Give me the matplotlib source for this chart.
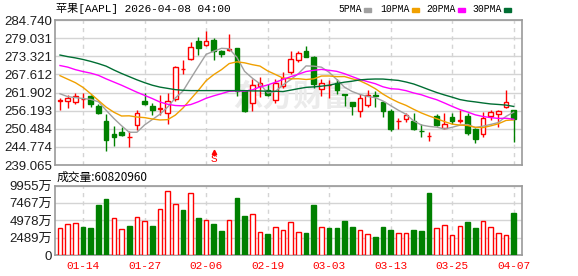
"""
AAPL daily candlestick chart with moving averages and volume,
laid out like the Eastmoney quote widget.
"""

import matplotlib
matplotlib.use("Agg")
import matplotlib.pyplot as plt
from matplotlib.patches import Rectangle
import numpy as np
import pandas as pd

# ---- data, oldest bar first ----
opens = [259.2, 259.2, 258.8, 259.9, 260.7, 257.8, 252.9, 248.7, 249.4, 247.8,
         251.6, 259.1, 257.8, 256.7, 255.3, 259.7, 269.2, 272.3, 278.1, 277.0,
         278.3, 275.0, 275.4, 275.9, 262.3, 258.6, 263.8, 262.8, 259.5, 263.8,
         268.3, 272.2, 274.9, 273.2, 263.0, 264.3, 264.9, 261.35, 258.9, 256.1,
         257.9, 261.0, 258.9, 256.0, 252.9, 253.5, 253.0, 249.8, 248.1, 254.4,
         250.6, 254.2, 252.9, 254.4, 250.4, 248.7, 254.5, 255.0, 257.2, 256.3]
highs = [260.3, 261.2, 261.9, 261.9, 261.0, 258.4, 255.0, 251.5, 250.9, 249.7,
         256.5, 261.9, 258.6, 261.0, 261.8, 270.4, 272.0, 277.8, 279.3, 281.4,
         279.1, 275.4, 280.4, 275.9, 262.7, 266.2, 266.8, 264.5, 266.1, 268.3,
         275.1, 275.1, 276.4, 273.3, 266.2, 265.9, 266.2, 261.5, 259.0, 261.5,
         262.8, 262.4, 259.2, 256.8, 254.0, 255.3, 255.3, 252.1, 249.5, 255.1,
         255.3, 255.3, 256.5, 255.3, 250.6, 255.8, 256.5, 256.5, 262.6, 256.4]
lows = [256.3, 256.9, 258.4, 257.1, 257.3, 255.1, 243.5, 244.9, 248.3, 244.8,
        250.1, 257.9, 254.8, 254.7, 252.1, 259.2, 267.6, 272.0, 273.6, 276.7,
        272.0, 273.0, 275.1, 260.7, 255.9, 256.1, 260.5, 260.7, 258.6, 263.4,
        267.8, 271.5, 273.0, 263.4, 260.7, 260.3, 261.5, 257.6, 254.8, 254.2,
        257.4, 257.4, 254.2, 249.8, 250.4, 252.7, 250.1, 248.0, 246.6, 251.3,
        250.4, 252.1, 252.4, 248.5, 245.9, 247.8, 253.2, 251.1, 257.1, 246.2]
closes = [259.4, 260.3, 260.8, 260.0, 258.2, 255.6, 246.9, 248.0, 248.5, 247.9,
          255.6, 258.4, 256.5, 256.9, 259.2, 269.9, 269.4, 276.2, 276.0, 278.1,
          274.9, 273.9, 275.6, 262.4, 256.1, 264.2, 264.9, 261.0, 264.9, 266.5,
          272.5, 274.3, 273.2, 264.5, 264.9, 264.4, 262.8, 261.25, 257.7, 260.3,
          261.2, 260.9, 256.1, 250.4, 253.0, 254.8, 250.4, 249.7, 248.2, 251.8,
          252.0, 253.0, 253.1, 249.2, 247.1, 254.0, 255.8, 256.1, 258.9, 253.7]
# volume in 万 shares
volumes = [3925, 4404, 4547, 3973, 3829, 7132, 7993, 5361, 3781, 4116,
           5504, 4834, 4116, 6653, 9142, 7275, 6414, 8951, 5265, 4978,
           4451, 3398, 5074, 8137, 5552, 5840, 3351, 2968, 4069, 3638,
           4691, 3255, 3159, 7132, 4069, 3829, 3829, 4834, 3973, 3638,
           2968, 2537, 3973, 3542, 3111, 3111, 3542, 3398, 8855, 3925,
           4356, 2824, 4116, 4691, 3829, 4834, 3973, 3111, 2824, 6082]
latest_volume = 60820960

# MA values for the bars before a full window exists (from earlier history)
ma5_head = [261.5, 260.6, 260.3, 260.0]
ma10_head = [267.2, 266.1, 265.0, 263.5, 261.5, 259.4, 257.3, 255.7, 254.5]
ma20_head = [270.4, 269.9, 269.1, 268.5, 268.0, 267.3, 266.2, 265.2, 264.2, 263.1,
             262.0, 261.0, 260.0, 258.9, 258.2, 257.8, 257.7, 258.1, 259.0]
ma30_head = [273.7, 273.2, 272.8, 272.3, 271.7, 271.0, 270.2, 269.0, 267.9, 266.9,
             265.9, 265.0, 264.2, 263.6, 263.2, 262.8, 262.6, 262.5, 262.5, 262.5,
             262.5, 262.5, 262.5, 262.5, 262.5, 262.4, 262.4, 262.3, 262.3]

# trading calendar
first_day, last_day = "2026-01-09", "2026-04-07"
market_holidays = ["2026-01-19", "2026-02-16", "2026-04-03"]
signal_day = "2026-02-09"

price_ticks = ["239.065", "244.774", "250.484", "256.193", "261.902",
               "267.612", "273.321", "279.031", "284.740"]
volume_ticks = [0, 2489, 4978, 7467, 9955]

title = "苹果[AAPL] 2026-04-08 04:00"

RED = "#ff0000"
GREEN = "#008000"
MA_STYLES = [("5PMA", "#a0a0a0"), ("10PMA", "#f0a000"),
             ("20PMA", "#ff00ff"), ("30PMA", "#006e33")]
MONO = ["Liberation Mono", "Noto Sans CJK SC"]
SANS = ["Liberation Sans", "Noto Sans CJK SC"]
GRID = "#d4d4d4"


def moving_average(values, head):
    """Rolling mean, with the leading part taken from the chart itself."""
    window = len(head) + 1
    rolled = pd.Series(values).rolling(window).mean().to_numpy()
    return np.concatenate([head, rolled[window - 1:]])


def px(fig_x, fig_y):
    """Pixel position (from the top-left) to figure fraction."""
    return fig_x / 578, 1 - fig_y / 276


dates = pd.bdate_range(first_day, last_day, freq="C", holidays=market_holidays)
n = len(closes)
x = np.arange(n)
tick_pos = x[3::8]
tick_labels = [d.strftime("%m-%d") for d in dates[3::8]]

fig = plt.figure(figsize=(5.78, 2.76), dpi=100)
ax = fig.add_axes([55 / 578, 111 / 276, 467 / 578, 145 / 276])
axv = fig.add_axes([55 / 578, 21 / 276, 467 / 578, 69.5 / 276])

# ---- candles ----
w = 0.6
for i in range(n):
    o, h, l, c = opens[i], highs[i], lows[i], closes[i]
    up = c >= o
    col = RED if up else GREEN
    ax.vlines(i, l, h, color=col, lw=1, zorder=2)
    body = max(abs(c - o), 0.06)
    ax.add_patch(Rectangle((i - w / 2, min(o, c)), w, body,
                           facecolor="white" if up else GREEN,
                           edgecolor=col, lw=1, zorder=3))

ma_heads = [ma5_head, ma10_head, ma20_head, ma30_head]
for (name, color), head in zip(MA_STYLES, ma_heads):
    ax.plot(x, moving_average(closes, head), color=color, lw=1, zorder=4)

# sell signal marker
sig = dates.get_loc(pd.Timestamp(signal_day))
ax.vlines(sig, 242.0, 243.0, color=RED, lw=0.8, zorder=5)
ax.plot(sig, 243.2, marker="^", ms=3.2, color=RED, zorder=5)
ax.text(sig, 240.9, "S", color=RED, ha="center", va="center",
        fontsize=8, family=MONO, zorder=5)

# faint watermark
ax.text(0.51, 0.47, "东方财富", transform=ax.transAxes, ha="center",
        va="center", fontsize=22, color="#ebebeb", weight="bold",
        family=["Noto Sans CJK SC"], zorder=1)

ax.set_xlim(-0.65, n + 0.08)
ax.set_ylim(float(price_ticks[0]), float(price_ticks[-1]))
ax.set_yticks([float(t) for t in price_ticks])
ax.set_yticklabels(price_ticks)
ax.set_xticks(tick_pos)
ax.set_xticklabels([])

# ---- volume ----
prev = np.concatenate([[closes[0]], closes[:-1]])
vol_up = np.array(closes) >= prev
for i in range(n):
    col = RED if vol_up[i] else GREEN
    axv.add_patch(Rectangle((i - w / 2, 0), w, volumes[i],
                            facecolor="white" if vol_up[i] else GREEN,
                            edgecolor=col, lw=1, zorder=3))
axv.set_xlim(ax.get_xlim())
axv.set_ylim(0, volume_ticks[-1])
axv.set_yticks(volume_ticks)
axv.set_yticklabels(["0"] + [f"{v}万" for v in volume_ticks[1:]])
axv.set_xticks(tick_pos)
axv.set_xticklabels(tick_labels)

for a in (ax, axv):
    a.set_axisbelow(True)
    a.yaxis.grid(True, color=GRID, lw=1, ls="-")
    a.xaxis.grid(True, color=GRID, lw=1, ls=(0, (3, 3)))
    a.tick_params(length=0, pad=2)
    for s in a.spines.values():
        s.set_color("#9a9a9a")
        s.set_linewidth(1.2)
    for lab in a.get_yticklabels():
        lab.set_family(SANS)
        lab.set_fontsize(9.5)
        lab.set_color("#1e1e1e")

axv.tick_params(axis="x", pad=4)
for lab in axv.get_xticklabels():
    lab.set_family(MONO)
    lab.set_fontsize(8)
    lab.set_color(RED)

# ---- header texts ----
fig.text(*px(56, 9), title, va="center", fontsize=8, family=MONO)
legend_x = [338, 380, 426, 472]
for (name, color), lx in zip(MA_STYLES, legend_x):
    fig.text(*px(lx, 9.5), name, va="center", fontsize=7, family=MONO)
    x0, y0 = px(lx + len(name) * 5.9 + 2, 11.5)
    fig.patches.append(Rectangle((x0, y0), 7 / 578, 3.5 / 276, color=color,
                                 transform=fig.transFigure, figure=fig))
fig.text(*px(57, 177), f"成交量:{latest_volume}", va="center", fontsize=8.5,
         family=SANS[::-1])

fig.savefig("out.png", dpi=100)
